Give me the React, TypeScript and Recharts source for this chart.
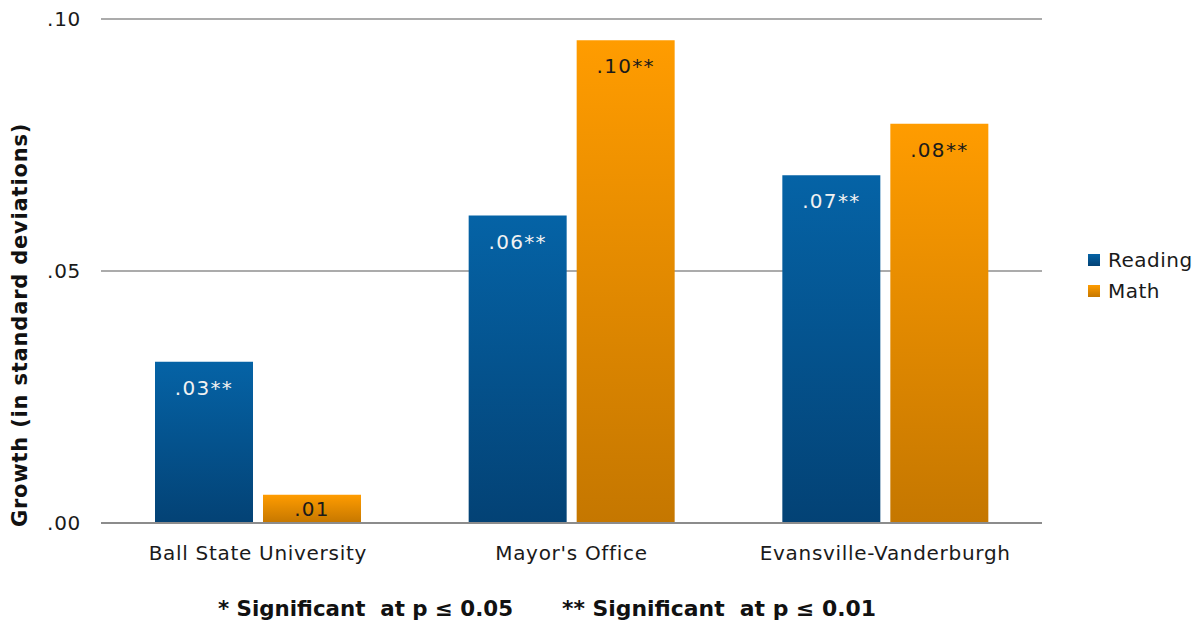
import React from 'react';
import { BarChart, Bar, XAxis, YAxis, CartesianGrid, Legend, LabelList } from 'recharts';

const categories = ['Ball State University', "Mayor's Office", 'Evansville-Vanderburgh'];
const readingValues = [0.032, 0.061, 0.069];
const mathValues = [0.0056, 0.0958, 0.0792];
const readingLabels = ['.03**', '.06**', '.07**'];
const mathLabels = ['.01', '.10**', '.08**'];
const yTicks = [0, 0.05, 0.1];
const footnotes = ['* Significant  at p ≤ 0.05', '** Significant  at p ≤ 0.01'];

const data = categories.map((c, i) => ({
  name: c,
  reading: readingValues[i],
  math: mathValues[i],
  readingLabel: readingLabels[i],
  mathLabel: mathLabels[i],
}));

const FONT = '"DejaVu Sans", Verdana, sans-serif';

const makeLabel = (color: string) => (props: any) => {
  const { x, y, width, height, value } = props;
  const small = height < 50;
  const cx = x + width / 2;
  const cy = small ? y + height / 2 : y + 26;
  return (
    <text
      x={cx}
      y={cy}
      textAnchor="middle"
      dominantBaseline="central"
      fill={color}
      fontSize={20}
      fontFamily={FONT}
      letterSpacing={1.3}
    >
      {value}
    </text>
  );
};
const ReadingLabel = makeLabel('#f2f2f2');
const MathLabel = makeLabel('#1a1a1a');

const LegendContent = () => (
  <div style={{ fontFamily: FONT, fontSize: 20, color: '#1a1a1a', letterSpacing: 0.5 }}>
    {[
      { label: 'Reading', bg: 'linear-gradient(#0563a6, #034275)' },
      { label: 'Math', bg: 'linear-gradient(#ff9c00, #c57700)' },
    ].map((it) => (
      <div key={it.label} style={{ display: 'flex', alignItems: 'center', height: 31 }}>
        <div style={{ width: 12, height: 12, background: it.bg, marginRight: 8 }} />
        <span>{it.label}</span>
      </div>
    ))}
  </div>
);

const YTitle = () => (
  <text
    transform="translate(20,325) rotate(-90)"
    textAnchor="middle"
    dominantBaseline="central"
    fontFamily={FONT}
    fontWeight="bold"
    fontSize={21}
    letterSpacing={0.8}
    fill="#111"
  >
    Growth (in standard deviations)
  </text>
);

export default function App() {
  return (
    <div style={{ position: 'absolute', left: 0, top: 0, width: 1200, height: 624, background: '#fff' }}>
      <BarChart
        width={1200}
        height={624}
        data={data}
        margin={{ top: 19, right: 158, bottom: 71, left: 0 }}
        barSize={98}
        barGap={10}
      >
        <defs>
          <linearGradient id="gReading" x1="0" y1="0" x2="0" y2="1">
            <stop offset="0%" stopColor="#0563a6" />
            <stop offset="100%" stopColor="#034275" />
          </linearGradient>
          <linearGradient id="gMath" x1="0" y1="0" x2="0" y2="1">
            <stop offset="0%" stopColor="#ff9c00" />
            <stop offset="100%" stopColor="#c57700" />
          </linearGradient>
        </defs>
        <CartesianGrid vertical={false} stroke="#8f8f8f" strokeWidth={1.3} />
        <XAxis
          dataKey="name"
          height={30}
          tickLine={false}
          axisLine={{ stroke: '#8c8c8c', strokeWidth: 2 }}
          tickMargin={17}
          tick={{ fontFamily: FONT, fontSize: 20, fill: '#1a1a1a', letterSpacing: 0.7 }}
          interval={0}
        />
        <YAxis
          width={101}
          domain={[0, 0.1]}
          ticks={yTicks}
          tickLine={false}
          axisLine={false}
          tickMargin={14}
          tickFormatter={(v: number) => v.toFixed(2).replace(/^0/, '')}
          tick={{ fontFamily: FONT, fontSize: 20, fill: '#1a1a1a', letterSpacing: 0.7 }}
          label={<YTitle />}
        />
        <Legend
          layout="vertical"
          align="center"
          verticalAlign="middle"
          content={<LegendContent />}
          wrapperStyle={{ left: 1088, top: 244, width: 112 }}
        />
        <Bar dataKey="reading" name="Reading" fill="url(#gReading)" isAnimationActive={false}>
          <LabelList dataKey="readingLabel" content={<ReadingLabel />} />
        </Bar>
        <Bar dataKey="math" name="Math" fill="url(#gMath)" isAnimationActive={false}>
          <LabelList dataKey="mathLabel" content={<MathLabel />} />
        </Bar>
      </BarChart>
      <svg width={1200} height={40} style={{ position: 'absolute', left: 0, top: 584 }}>
        <text
          x={218}
          y={31.5}
          fontFamily={FONT}
          fontWeight="bold"
          fontSize={21}
          fill="#111"
          textLength={295}
          lengthAdjust="spacingAndGlyphs"
          style={{ whiteSpace: 'pre' }}
        >
          {footnotes[0]}
        </text>
        <text
          x={562}
          y={31.5}
          fontFamily={FONT}
          fontWeight="bold"
          fontSize={21}
          fill="#111"
          textLength={314}
          lengthAdjust="spacingAndGlyphs"
          style={{ whiteSpace: 'pre' }}
        >
          {footnotes[1]}
        </text>
      </svg>
    </div>
  );
}
